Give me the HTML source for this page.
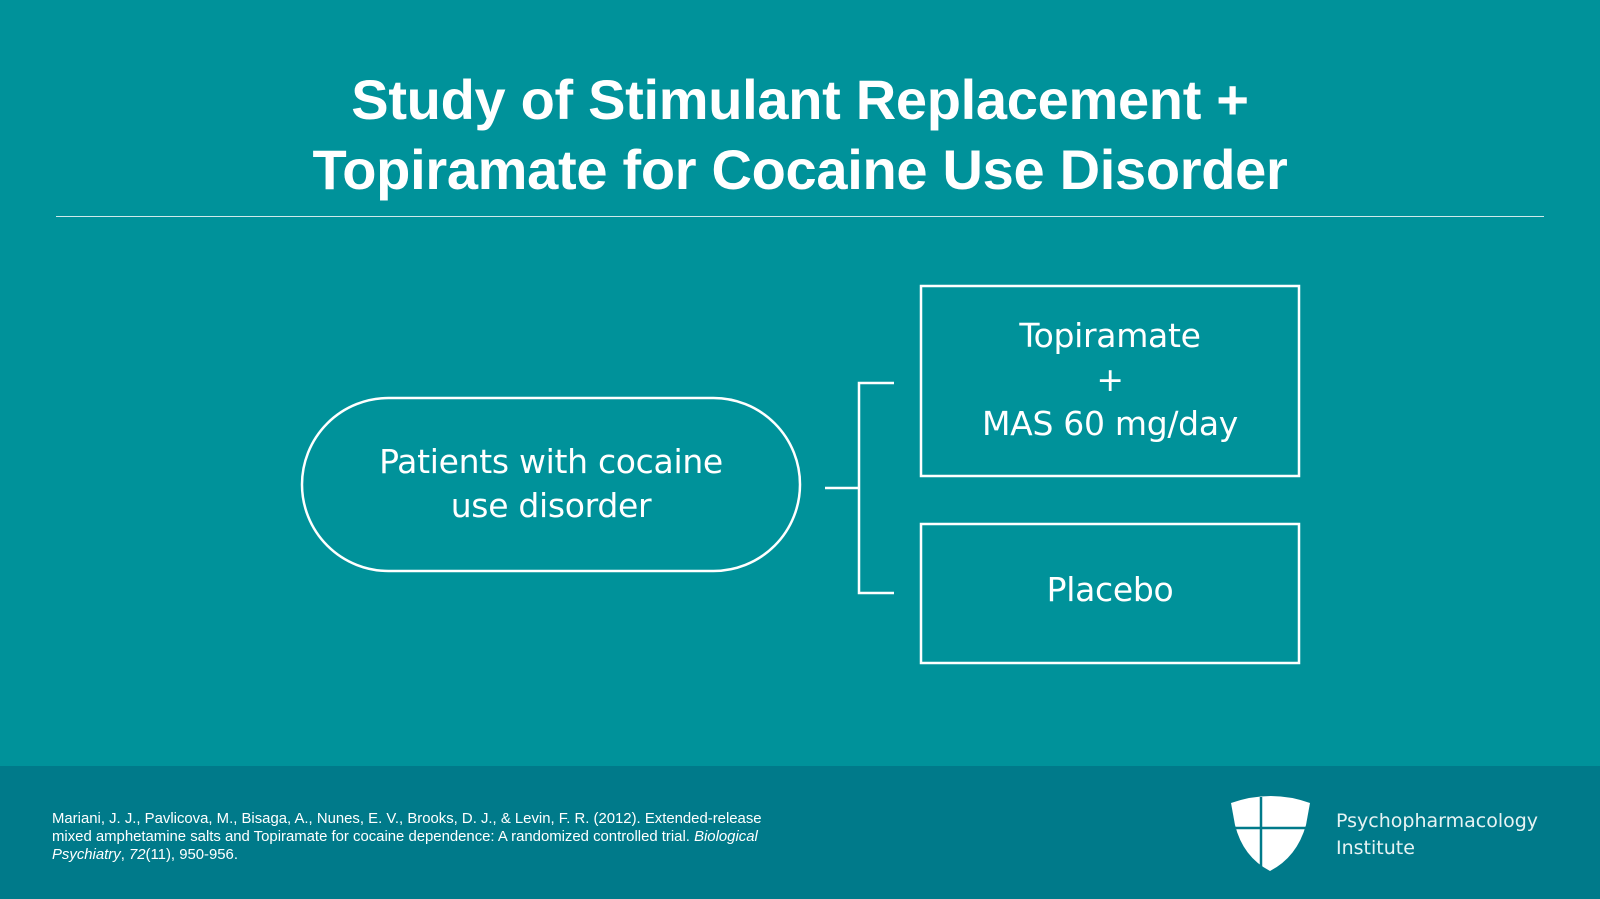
<!DOCTYPE html>
<html><head><meta charset="utf-8"><style>
body{margin:0;width:1600px;height:899px;overflow:hidden;background:#00929a;font-family:"Liberation Sans",sans-serif;color:#fff;position:relative}
.t{position:absolute;left:0;width:1600px;text-align:center;font-weight:bold;font-size:56px;letter-spacing:-0.3px}
.foot{position:absolute;left:0;top:766px;width:1600px;height:133px;background:#007a8a}
.cit{position:absolute;left:52px;top:810px;font-size:14.9px;line-height:18px;white-space:nowrap}
.lbl{position:absolute;font-family:"DejaVu Sans",sans-serif;font-size:33px;text-align:center;line-height:44px;letter-spacing:-0.3px}
</style></head><body>
<div class="t" style="top:67px">Study of Stimulant Replacement +</div>
<div class="t" style="top:137px">Topiramate for Cocaine Use Disorder</div>
<div style="position:absolute;left:56px;top:216px;width:1488px;height:1px;background:#cfe9eb"></div>
<div class="foot"></div>
<svg width="1600" height="899" style="position:absolute;left:0;top:0">
<rect x="302" y="398" width="498" height="173" rx="86.5" fill="none" stroke="#fff" stroke-width="2.5"/>
<rect x="921" y="286" width="378" height="190" fill="none" stroke="#fff" stroke-width="2.5"/>
<rect x="921" y="524" width="378" height="139" fill="none" stroke="#fff" stroke-width="2.5"/>
<path d="M825 488H859M894 383H859V593H894" fill="none" stroke="#fff" stroke-width="2.5"/>
<g transform="translate(1231,795)">
<path d="M0 8 Q40 -6 79 8 L75 30 Q66 62 39 76 Q12 62 4 30 Z" fill="#fff"/>
<path d="M30 2 V74 M2 33 H77" stroke="#007a8a" stroke-width="2.5"/>
</g>
</svg>
<div class="lbl" style="left:302px;top:440px;width:498px">Patients with cocaine<br>use disorder</div>
<div class="lbl" style="left:921px;top:314px;width:378px">Topiramate<br>+<br>MAS 60 mg/day</div>
<div class="lbl" style="left:921px;top:568px;width:378px">Placebo</div>
<div class="cit">Mariani, J. J., Pavlicova, M., Bisaga, A., Nunes, E. V., Brooks, D. J., &amp; Levin, F. R. (2012). Extended-release<br>mixed amphetamine salts and Topiramate for cocaine dependence: A randomized controlled trial. <i>Biological</i><br><i>Psychiatry</i>, <i>72</i>(11), 950-956.</div>
<div style="position:absolute;left:1336px;top:808px;font-family:'DejaVu Sans',sans-serif;font-size:19px;line-height:27px;color:#e6f3f4">Psychopharmacology<br>Institute</div>
</body></html>
